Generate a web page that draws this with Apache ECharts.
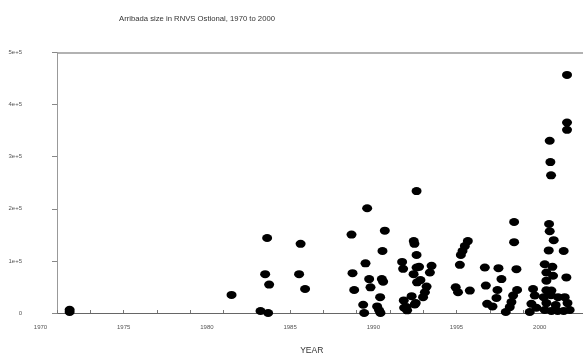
<!DOCTYPE html>
<html>
<head>
<meta charset="utf-8">
<script src="https://cdn.jsdelivr.net/npm/echarts@6/dist/echarts.min.js"></script>
<style>html,body{margin:0;padding:0;background:#fff;}#c{width:583px;height:360px;}</style>
</head>
<body>
<div id="c"></div>
<script>
var titleText = 'Arribada size in RNVS Ostional, 1970 to 2000';
var xAxisName = 'YEAR';
var xLabelValues = [1970, 1975, 1980, 1985, 1990, 1995, 2000];
var xTickValues = [1971, 1973, 1975, 1977, 1979, 1981, 1983, 1985, 1987, 1989, 1991, 1993, 1995, 1997, 1999, 2001];
var yTickValues = [0, 100000, 200000, 300000, 400000, 500000];

var years = [
  1971.75, 1971.75, 1981.48,
  1983.62, 1983.5, 1983.74, 1983.22, 1983.68,
  1985.63, 1985.54, 1985.9,
  1988.69, 1989.63, 1990.69, 1988.75, 1988.85, 1989.53, 1989.75, 1989.83, 1990.55, 1990.51, 1990.59, 1990.41, 1989.39, 1989.45, 1990.23, 1990.35, 1990.43,
  1992.6, 1991.73, 1991.79, 1992.43, 1992.47, 1992.6, 1992.42, 1992.63, 1992.6, 1992.3, 1991.83, 1992.49, 1991.99, 1992.03, 1992.75, 1992.83, 1993.5, 1993.4, 1993.2, 1993.1, 1992.99, 1992.55, 1991.85,
  1995.68, 1995.5, 1995.36, 1995.26, 1995.2, 1994.95, 1995.09, 1995.8,
  1996.7, 1996.76, 1997.52, 1997.7, 1997.46, 1997.4, 1996.84, 1997.16,
  1998.46, 1998.46, 1998.6, 1998.64, 1998.4, 1998.3, 1998.2, 1997.96,
  1999.6, 1999.7, 1999.5, 1999.8, 1999.4,
  2001.64, 2001.64, 2001.64, 2000.6, 2000.64, 2000.68, 2000.56, 2000.6, 2000.84, 2000.54, 2001.44, 2000.3, 2000.76, 2000.4, 2000.8, 2000.4, 2001.6,
  2000.24, 2000.68, 2001.1, 2001.5, 2000.4, 2000.96, 2000.3, 2000.7, 2001.08, 2001.44, 2001.8, 2001.67, 2000.4, 2000.7
];
var sizes = [
  2000, 6000, 34700,
  144000, 74600, 54500, 3800, 0,
  132800, 74600, 46100,
  150500, 201000, 158000, 76500, 44200, 95400, 65100, 49300, 119000, 65100, 60100, 30400, 15800, 0, 12700, 5100, 0,
  234000, 98100, 84800, 138000, 132800, 111400, 74600, 58800, 87300, 32300, 24100, 16500, 11400, 5100, 88600, 63200, 90500, 77800, 50700, 39800, 30400, 19000, 10000,
  138000, 128500, 119000, 111400, 92400, 49300, 39800, 43000,
  87300, 52600, 86000, 65100, 44200, 29000, 17600, 12700,
  174600, 136000, 84100, 44200, 33600, 20900, 11400, 1900,
  46100, 33600, 17600, 10000, 1900,
  457000, 365700, 351600, 330700, 289700, 264300, 170800, 156900, 139800, 120100, 119000, 93500, 88600, 77800, 71500, 62000, 68300,
  30400, 34000, 30400, 30400, 19000, 15200, 5700, 3800, 3800, 3800, 5700, 19000, 43600, 43000
];

var pts = years.map(function (y, i) { return [y, sizes[i]]; });
var xMin = 1970, xMax = 2002.6, xLineStart = 1971;
var yMax = yTickValues[yTickValues.length - 1];
var FONT = 'Liberation Sans Narrow, Liberation Sans, Arial, sans-serif';

var chart = echarts.init(document.getElementById('c'), null, {renderer: 'canvas'});
chart.setOption({
  animation: false,
  backgroundColor: '#ffffff',
  title: {
    text: titleText,
    left: 114, top: 10,
    textStyle: {fontFamily: FONT, fontSize: 7.7, fontWeight: 'normal', color: '#333'}
  },
  grid: {left: 40.5, right: 0, top: 52.5, bottom: 44, containLabel: false},
  xAxis: {
    type: 'value', min: xMin, max: xMax,
    name: xAxisName, nameLocation: 'middle', nameGap: 33,
    nameTextStyle: {fontFamily: FONT, fontSize: 8.5, color: '#333'},
    axisLine: {show: false},
    axisTick: {show: true, inside: true, length: 3, customValues: xTickValues, lineStyle: {color: '#777'}},
    axisLabel: {customValues: xLabelValues, margin: 11, fontSize: 6, color: '#555',
      fontFamily: FONT, showMinLabel: true,
      formatter: function (v) { return String(Math.round(v)); }},
    splitLine: {show: false}
  },
  yAxis: {
    type: 'value', min: 0, max: yMax, offset: -16.5,
    axisLine: {show: true, lineStyle: {color: '#999'}},
    axisTick: {show: true, length: 5, customValues: yTickValues, lineStyle: {color: '#888'}},
    axisLabel: {customValues: yTickValues, margin: 35, fontSize: 6, color: '#555',
      fontFamily: FONT,
      formatter: function (v) { return v === 0 ? '0' : (v / 100000) + 'e+5'; }},
    splitLine: {show: false}
  },
  series: [{
    type: 'scatter',
    data: pts,
    symbol: 'circle',
    symbolSize: [10, 8],
    itemStyle: {color: '#000', opacity: 1},
    z: 3,
    markLine: {
      silent: true, symbol: ['none', 'none'], label: {show: false}, animation: false,
      data: [
        [{coord: [xLineStart, 0], lineStyle: {color: '#666', width: 1, type: 'solid'}}, {coord: [xMax, 0]}],
        [{coord: [xLineStart, yMax], lineStyle: {color: '#999', width: 1.5, type: 'solid'}}, {coord: [xMax, yMax]}]
      ],
      z: 1
    }
  }]
});
</script>
</body>
</html>
